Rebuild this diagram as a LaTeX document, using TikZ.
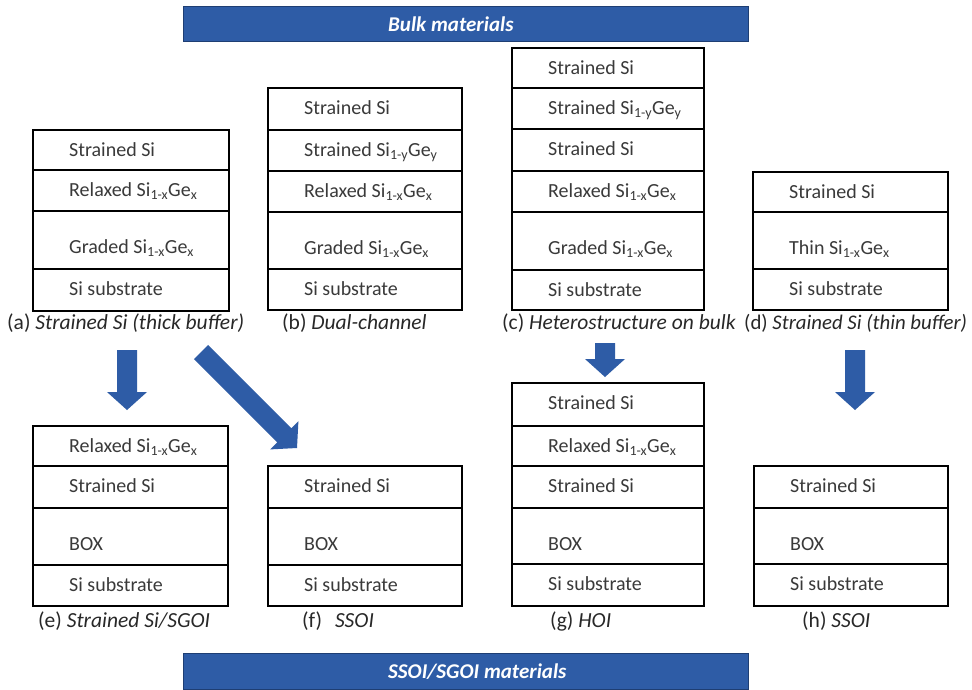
\documentclass[tikz,border=0pt]{standalone}
\usepackage{fontspec}
\setmainfont{Carlito}
\usetikzlibrary{calc}
\definecolor{bandblue}{RGB}{46,92,166}
\definecolor{bandedge}{RGB}{30,62,115}
\definecolor{txtgray}{RGB}{58,58,58}
\definecolor{labgray}{RGB}{40,40,40}
\newcommand{\sige}[1][x]{Si\textsubscript{1-#1}Ge\textsubscript{#1}}
\newcommand{\lay}[6]{%
  \draw[layerline] (#2,#4) rectangle (#3,#5);
  \pgfmathsetmacro\layoff{((#5-#4)>50)?42:26}
  \node[lt] (#1) at ($(#2,#4)+(36,\layoff)$) {#6};}
\newcommand{\blockarrow}[2]{%
  \path ($(#2)!18pt!(#1)$) coordinate (hb);
  \fill[bandblue] ($(#1)!10pt!90:(#2)$) -- ($(hb)!10pt!90:(#2)$) -- ($(hb)!20pt!90:(#2)$) -- (#2)
    -- ($(hb)!20pt!-90:(#2)$) -- ($(hb)!10pt!-90:(#2)$) -- ($(#1)!10pt!-90:(#2)$) -- cycle;}
\tikzset{
  layerline/.style={draw=black, line width=2.8pt},
  lt/.style={anchor=base west, inner sep=0pt, text=txtgray, font=\fontsize{20}{23}\selectfont},
  lab/.style={anchor=base west, inner sep=0pt, text=labgray, font=\fontsize{21.5}{25}\selectfont},
  bandbox/.style={fill=bandblue, draw=bandedge, line width=1pt},
  bandtxt/.style={anchor=base west, inner sep=0pt, text=white, font=\fontsize{21}{25}\selectfont\bfseries\itshape},
}
\begin{document}
\begin{tikzpicture}[x=1pt,y=-1pt]
\useasboundingbox (0,0) rectangle (972,689);
\fill[white] (0,0) rectangle (972,689);
% banners
\draw[bandbox] (183,6) rectangle (748,41);
\node[bandtxt] (bulk) at (388,31) {Bulk materials};
\draw[bandbox] (183,653) rectangle (748,689);
\node[bandtxt] (ssoi) at (388,678) {SSOI/SGOI materials};
% (a)
\lay{a1}{33}{229}{130}{170}{Strained Si}
\lay{a2}{33}{229}{170}{211}{Relaxed \sige}
\lay{a3}{33}{229}{211}{269}{Graded \sige}
\lay{a4}{33}{229}{269}{311}{Si substrate}
\node[lab] (la) at (7,329) {(a) \textit{Strained Si (thick buffer)}};
% (b)
\lay{b1}{268}{462}{88}{130}{Strained Si}
\lay{b2}{268}{462}{130}{171}{Strained \sige[y]}
\lay{b3}{268}{462}{171}{212}{Relaxed \sige}
\lay{b4}{268}{462}{212}{269}{Graded \sige}
\lay{b5}{268}{462}{269}{310}{Si substrate}
\node[lab] (lb) at (282,329) {(b) \textit{Dual-channel}};
% (c)
\lay{c1}{512}{704}{48}{88}{Strained Si}
\lay{c2}{512}{704}{88}{129}{Strained \sige[y]}
\lay{c3}{512}{704}{129}{171}{Strained Si}
\lay{c4}{512}{704}{171}{212}{Relaxed \sige}
\lay{c5}{512}{704}{212}{270}{Graded \sige}
\lay{c6}{512}{704}{270}{310}{Si substrate}
\node[lab] (lc) at (502,329) {(c) \textit{Heterostructure on bulk}};
% (d)
\lay{d1}{753}{948}{172}{212}{Strained Si}
\lay{d2}{753}{948}{212}{269}{Thin \sige}
\lay{d3}{753}{948}{269}{310}{Si substrate}
\node[lab, font=\fontsize{20.8}{25}\selectfont] (ld) at (744,329) {(d) \textit{Strained Si (thin buffer)}};
% (e)
\lay{e1}{33}{228}{426}{466}{Relaxed \sige}
\lay{e2}{33}{228}{466}{508}{Strained Si}
\lay{e3}{33}{228}{508}{565}{BOX}
\lay{e4}{33}{228}{565}{606}{Si substrate}
\node[lab] (le) at (38,627) {(e) \textit{Strained Si/SGOI}};
% (f)
\lay{f1}{268}{462}{466}{508}{Strained Si}
\lay{f2}{268}{462}{508}{565}{BOX}
\lay{f3}{268}{462}{565}{606}{Si substrate}
\node[lab] (lf) at (302,627) {(f)\hspace{0.6em}\textit{SSOI}};
% (g)
\lay{g1}{512}{704}{383}{426}{Strained Si}
\lay{g2}{512}{704}{426}{466}{Relaxed \sige}
\lay{g3}{512}{704}{466}{508}{Strained Si}
\lay{g4}{512}{704}{508}{564}{BOX}
\lay{g5}{512}{704}{564}{606}{Si substrate}
\node[lab] (lg) at (550,627) {(g) \textit{HOI}};
% (h)
\lay{h1}{754}{948}{466}{508}{Strained Si}
\lay{h2}{754}{948}{508}{564}{BOX}
\lay{h3}{754}{948}{564}{606}{Si substrate}
\node[lab] (lh) at (802,627) {(h) \textit{SSOI}};
% arrows
\coordinate (ae1) at (127,350); \coordinate (ae2) at (127,410);
\coordinate (af1) at (201,352); \coordinate (af2) at (297,448);
\coordinate (cg1) at (605,343); \coordinate (cg2) at (605,377);
\coordinate (dh1) at (855,350); \coordinate (dh2) at (855,410);
\blockarrow{ae1}{ae2}
\blockarrow{af1}{af2}
\blockarrow{cg1}{cg2}
\blockarrow{dh1}{dh2}
\end{tikzpicture}
\end{document}
